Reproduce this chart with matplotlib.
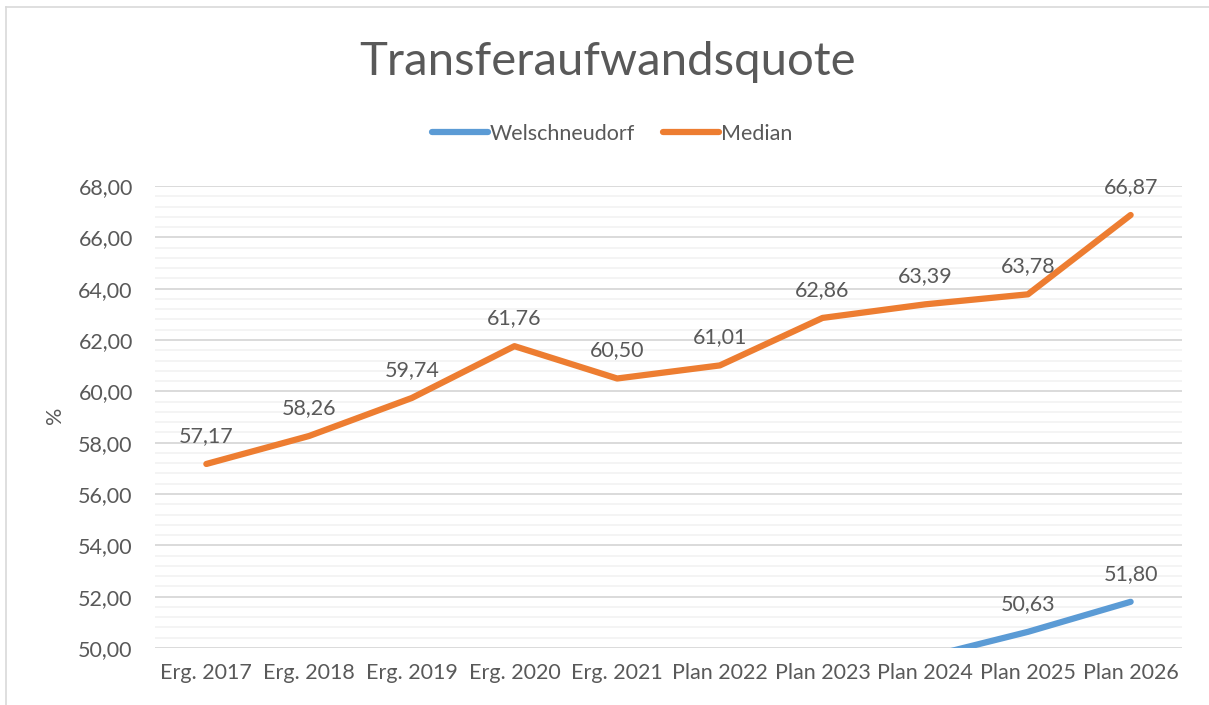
import numpy as np
import matplotlib.pyplot as plt
from matplotlib.lines import Line2D

plt.rcParams['font.family'] = ['Lato', 'DejaVu Sans']

categories = ['Erg. 2017', 'Erg. 2018', 'Erg. 2019', 'Erg. 2020', 'Erg. 2021',
              'Plan 2022', 'Plan 2023', 'Plan 2024', 'Plan 2025', 'Plan 2026']
# earlier Welschneudorf values lie below the visible axis range (not readable)
welschneudorf = [np.nan, np.nan, np.nan, np.nan, np.nan,
                 np.nan, np.nan, 49.63, 50.63, 51.80]
median = [57.17, 58.26, 59.74, 61.76, 60.50, 61.01, 62.86, 63.39, 63.78, 66.87]

text_col = '#595959'
blue = '#5B9BD5'
orange = '#ED7D31'
fs = 15.5

fig = plt.figure(figsize=(12.09, 7.05), dpi=100)
ax = fig.add_axes([155/1209, 1 - 648/705, (1182 - 155)/1209, (648 - 186)/705])

x = np.arange(len(categories))
ax.set_xlim(-0.5, len(categories) - 0.5)
ax.set_ylim(50, 68)

# gridlines: majors every 2, minors every 0.4
for v in np.arange(50, 68.01, 0.4):
    ax.axhline(v, color='#f2f2f2', lw=1.2, zorder=0)
for v in np.arange(50, 68.01, 2):
    ax.axhline(v, color='#d9d9d9', lw=1.3, zorder=1)

ax.plot(x, welschneudorf, color=blue, lw=4.5, solid_capstyle='round',
        solid_joinstyle='round', zorder=3)
ax.plot(x, median, color=orange, lw=4.5, solid_capstyle='round',
        solid_joinstyle='round', zorder=3)

for series in (welschneudorf, median):
    for xi, v in zip(x, series):
        if np.isnan(v) or v < 50:
            continue
        ax.annotate(f'{v:.2f}'.replace('.', ','), (xi, v), xytext=(0, 13),
                    textcoords='offset points', ha='center', va='bottom',
                    fontsize=fs, color=text_col)

ax.set_yticks(np.arange(50, 68.01, 2))
ax.set_yticklabels([f'{v:.2f}'.replace('.', ',') for v in np.arange(50, 68.01, 2)])
ax.set_xticks(x)
ax.set_xticklabels(categories)
ax.tick_params(length=0, labelsize=fs, labelcolor=text_col)
ax.tick_params(axis='y', pad=16)
ax.tick_params(axis='x', pad=11)
for s in ax.spines.values():
    s.set_visible(False)

fig.text(55/1209, 1 - 415/705, '%', rotation=90, ha='center', va='center',
         fontsize=fs, color=text_col)
fig.text(608/1209, 1 - 62/705, 'Transferaufwandsquote', ha='center', va='center',
         fontsize=34, color=text_col)

handles = [Line2D([], [], color=blue, lw=4.5, solid_capstyle='round'),
           Line2D([], [], color=orange, lw=4.5, solid_capstyle='round')]
fig.legend(handles, ['Welschneudorf', 'Median'], loc='center',
           bbox_to_anchor=(612/1209, 1 - 134/705), ncol=2, frameon=False,
           fontsize=fs, labelcolor=text_col, handlelength=2.6,
           handletextpad=0.1, columnspacing=1.3)

# chart border (top and left visible)
fig.add_artist(Line2D([6/1209, 6/1209], [0, 1 - 7/705], color='#d9d9d9', lw=1.2))
fig.add_artist(Line2D([6/1209, 1], [1 - 7/705, 1 - 7/705], color='#d9d9d9', lw=1.2))

fig.savefig('out.png', dpi=100)
